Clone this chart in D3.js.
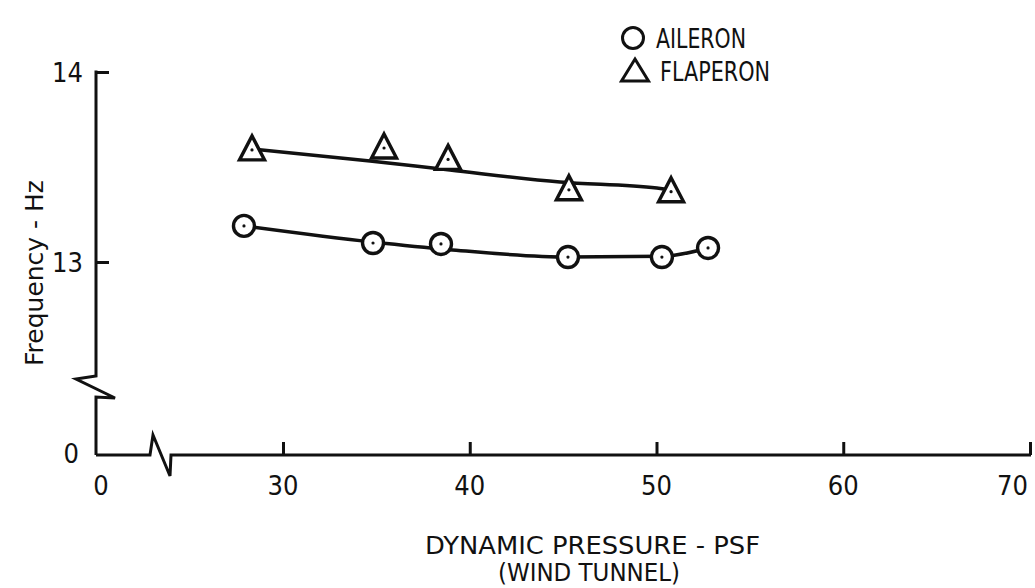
<!DOCTYPE html>
<html>
<head>
<meta charset="utf-8">
<script src="https://cdn.jsdelivr.net/npm/d3@7"></script>
<style>
  html, body { margin: 0; padding: 0; background: #fff; }
  svg { display: block; }
  .num { font-family: "Liberation Sans Narrow", "DejaVu Sans Condensed", "DejaVu Sans", sans-serif; font-stretch: condensed; font-size: 27px; fill: #111; }
  .cap { font-family: "Liberation Sans Narrow", "DejaVu Sans Condensed", "DejaVu Sans", sans-serif; font-stretch: condensed; font-size: 26px; fill: #111; }
  .ttl { font-family: "Liberation Sans Narrow", "DejaVu Sans Condensed", "DejaVu Sans", sans-serif; font-stretch: condensed; font-size: 24px; fill: #111; }
  .ylab { font-family: "DejaVu Sans", sans-serif; font-size: 25px; fill: #111; }
</style>
</head>
<body>
<svg id="chart" width="1035" height="588"></svg>
<script>
// ---- data ----
const seriesNames = ["AILERON", "FLAPERON"];
const aileronQ    = [27.91, 34.82, 38.46, 45.26, 50.29, 52.76];
const aileronF    = [13.19, 13.10, 13.095, 13.026, 13.026, 13.074];
const flaperonQ   = [28.34, 35.41, 38.84, 45.31, 50.78];
const flaperonF   = [13.59, 13.60, 13.54, 13.38, 13.37];
// faired curves drawn through the data
const aileronFitQ  = [27.91, 34.8, 38.9, 45.3, 50.3, 52.76];
const aileronFitF  = [13.19, 13.105, 13.065, 13.026, 13.03, 13.074];
const flaperonFitQ = [28.34, 34.66, 38.94, 44.83, 50.02, 50.78];
const flaperonFitF = [13.595, 13.532, 13.484, 13.421, 13.389, 13.379];
const xTicks = [30, 40, 50, 60, 70];
const yTicks = [13, 14];
const xTitle = "DYNAMIC PRESSURE - PSF";
const xSubtitle = "(WIND TUNNEL)";
const yTitle = "Frequency - Hz";

// ---- layout ----
const svg = d3.select("#chart");
const x = d3.scaleLinear().domain([30, 70]).range([283, 1030]);
const y = d3.scaleLinear().domain([13, 14]).range([262, 72]);
const axisX0 = 96;      // position of the broken-origin y axis
const axisY0 = 455;     // position of the broken-origin x axis
const ink = "#111";

// x axis (broken)
const xAxis = d3.axisBottom(x).tickValues(xTicks).tickSizeInner(-13).tickSizeOuter(0).tickFormat("");
const gx = svg.append("g").attr("transform", `translate(0,${axisY0})`).call(xAxis);
gx.select(".domain").remove();
gx.selectAll(".tick line").attr("stroke", ink).attr("stroke-width", 3);
svg.append("path")
  .attr("d", d3.line()([[axisX0, axisY0], [150, axisY0], [153, axisY0 - 20], [170, axisY0 + 21], [171, axisY0], [x(70) + 1, axisY0]]))
  .attr("fill", "none").attr("stroke", ink).attr("stroke-width", 3).attr("stroke-linejoin", "miter");

// y axis (broken)
const yAxis = d3.axisRight(y).tickValues(yTicks).tickSizeInner(13).tickSizeOuter(0).tickFormat("");
const gy = svg.append("g").attr("transform", `translate(${axisX0},0)`).call(yAxis);
gy.select(".domain").remove();
gy.selectAll(".tick line").attr("stroke", ink).attr("stroke-width", 3);
svg.append("path")
  .attr("d", d3.line()([[axisX0, y(14) - 1.5], [axisX0, 376], [76, 379], [115, 398], [axisX0, 397], [axisX0, axisY0]]))
  .attr("fill", "none").attr("stroke", ink).attr("stroke-width", 3).attr("stroke-linejoin", "miter");

// tick labels
svg.append("g").selectAll("text").data(xTicks).join("text")
  .attr("class", "num")
  .attr("x", d => d === 70 ? x(d) - 2 : x(d))
  .attr("y", 495)
  .attr("text-anchor", d => d === 70 ? "end" : "middle")
  .text(d => d);
svg.append("text").attr("class", "num").attr("x", 101).attr("y", 495).attr("text-anchor", "middle").text("0");
svg.append("g").selectAll("text").data(yTicks).join("text")
  .attr("class", "num").attr("x", 83).attr("y", d => y(d) + 10).attr("text-anchor", "end").text(d => d);
svg.append("text").attr("class", "num").attr("x", 79).attr("y", axisY0 + 8).attr("text-anchor", "end").text("0");

// axis titles
svg.append("text").attr("class", "ttl").attr("x", 425).attr("y", 554)
  .attr("textLength", 335).attr("lengthAdjust", "spacingAndGlyphs").text(xTitle);
svg.append("text").attr("class", "ttl").attr("x", 498).attr("y", 581)
  .attr("textLength", 182).attr("lengthAdjust", "spacingAndGlyphs").text(xSubtitle);
svg.append("text").attr("class", "ylab").attr("transform", "translate(43,273) rotate(-90)")
  .attr("text-anchor", "middle").text(yTitle);

// faired curves
const line = d3.line().x(d => x(d[0])).y(d => y(d[1])).curve(d3.curveMonotoneX);
svg.append("path").datum(d3.zip(aileronFitQ, aileronFitF)).attr("d", line)
  .attr("fill", "none").attr("stroke", ink).attr("stroke-width", 3.5);
svg.append("path").datum(d3.zip(flaperonFitQ, flaperonFitF)).attr("d", line)
  .attr("fill", "none").attr("stroke", ink).attr("stroke-width", 3.5);

// markers
const tri = (w, up, down) => `M0,${-up}L${w / 2},${down}L${-w / 2},${down}Z`;
const ail = svg.append("g").selectAll("g").data(d3.zip(aileronQ, aileronF)).join("g")
  .attr("transform", d => `translate(${x(d[0])},${y(d[1])})`);
ail.append("circle").attr("r", 10.5).attr("fill", "#fff").attr("stroke", ink).attr("stroke-width", 3.4);
ail.append("circle").attr("r", 1.6).attr("fill", ink);
const fla = svg.append("g").selectAll("g").data(d3.zip(flaperonQ, flaperonF)).join("g")
  .attr("transform", d => `translate(${x(d[0])},${y(d[1])})`);
fla.append("path").attr("d", tri(25, 14, 10)).attr("fill", "#fff").attr("stroke", ink)
  .attr("stroke-width", 3.4).attr("stroke-linejoin", "miter");
fla.append("circle").attr("r", 1.6).attr("fill", ink);

// legend
const lg = svg.append("g");
lg.append("circle").attr("cx", 633).attr("cy", 38).attr("r", 10.5).attr("fill", "none").attr("stroke", ink).attr("stroke-width", 3);
lg.append("text").attr("class", "cap").attr("x", 656).attr("y", 48)
  .attr("textLength", 90).attr("lengthAdjust", "spacingAndGlyphs").text(seriesNames[0]);
lg.append("path").attr("transform", "translate(635,72)").attr("d", tri(27, 13, 9))
  .attr("fill", "none").attr("stroke", ink).attr("stroke-width", 3).attr("stroke-linejoin", "miter");
lg.append("text").attr("class", "cap").attr("x", 660).attr("y", 81)
  .attr("textLength", 110).attr("lengthAdjust", "spacingAndGlyphs").text(seriesNames[1]);
</script>
</body>
</html>
